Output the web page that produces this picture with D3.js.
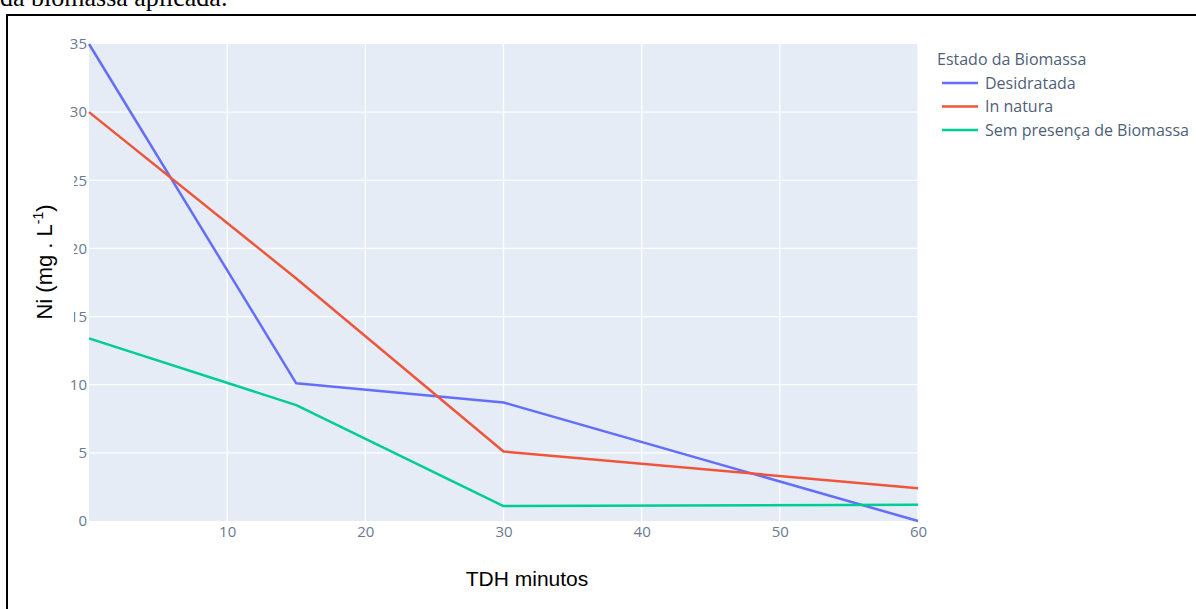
<!DOCTYPE html>
<html>
<head>
<meta charset="utf-8">
<script src="https://cdn.jsdelivr.net/npm/d3@7"></script>
<style>
  html, body { margin: 0; padding: 0; background: #fff; }
  svg { display: block; }
</style>
</head>
<body>
<svg id="chart" width="1196" height="609"></svg>
<script>
// Tempo de detenção hidráulica (min)
const tempos = [0, 15, 30, 60];
// Concentração de Ni (mg/L) por estado da biomassa
const desidratada = [35, 10.1, 8.7, 0];
const inNatura = [30, 17.8, 5.1, 2.4];
const semBiomassa = [13.4, 8.5, 1.1, 1.2];

const seriesNames = ["Desidratada", "In natura", "Sem presença de Biomassa"];
const seriesColors = ["#636efa", "#EF553B", "#00cc96"];
const xTicks = [10, 20, 30, 40, 50, 60];
const yTicks = [0, 5, 10, 15, 20, 25, 30, 35];

const series = [desidratada, inNatura, semBiomassa].map((vals, i) => ({
  name: seriesNames[i],
  color: seriesColors[i],
  points: tempos.map((t, j) => ({ t, v: vals[j] }))
}));

const svg = d3.select("#chart");
const plot = { left: 89, right: 918, top: 44, bottom: 521 };

const x = d3.scaleLinear().domain([0, 60]).range([plot.left, plot.right]);
const y = d3.scaleLinear().domain([0, 35]).range([plot.bottom, plot.top]);

// caption fragment above the figure frame
svg.append("text")
  .attr("x", 0).attr("y", 6)
  .attr("font-family", "Liberation Serif, Times New Roman, serif")
  .attr("font-size", 26)
  .attr("fill", "#000")
  .text("da biomassa aplicada.");

// figure frame
svg.append("line").attr("x1", 6).attr("x2", 1196).attr("y1", 15).attr("y2", 15)
  .attr("stroke", "#000").attr("stroke-width", 2);
svg.append("line").attr("x1", 7).attr("x2", 7).attr("y1", 14).attr("y2", 609)
  .attr("stroke", "#000").attr("stroke-width", 2);

// plot background
svg.append("rect")
  .attr("x", plot.left).attr("y", plot.top)
  .attr("width", plot.right - plot.left).attr("height", plot.bottom - plot.top)
  .attr("fill", "#E5ECF6");

// gridlines
svg.append("g").selectAll("line").data(xTicks).join("line")
  .attr("x1", d => x(d)).attr("x2", d => x(d))
  .attr("y1", plot.top).attr("y2", plot.bottom)
  .attr("stroke", "#fff").attr("stroke-width", 1.3);
svg.append("g").selectAll("line").data(yTicks.filter(d => d > 0 && d < 35)).join("line")
  .attr("x1", plot.left).attr("x2", plot.right)
  .attr("y1", d => y(d)).attr("y2", d => y(d))
  .attr("stroke", "#fff").attr("stroke-width", 1.3);

// axes (labels only, plotly style)
const tickFont = "Open Sans, Verdana, Arial, sans-serif";
const xAxis = svg.append("g")
  .attr("transform", `translate(0,${plot.bottom})`)
  .call(d3.axisBottom(x).tickValues(xTicks).tickSize(0).tickPadding(5).tickFormat(d3.format("d")));
xAxis.select(".domain").remove();
xAxis.selectAll("text").attr("font-family", tickFont).attr("font-size", 15).attr("fill", "#6b7a90");

const yAxis = svg.append("g")
  .attr("transform", `translate(${plot.left},0)`)
  .call(d3.axisLeft(y).tickValues(yTicks).tickSize(0).tickPadding(2).tickFormat(d3.format("d")));
yAxis.select(".domain").remove();
yAxis.selectAll("text").attr("font-family", tickFont).attr("font-size", 15).attr("fill", "#6b7a90");

// lines
const line = d3.line().x(d => x(d.t)).y(d => y(d.v));
svg.append("g").selectAll("path").data(series).join("path")
  .attr("d", d => line(d.points))
  .attr("fill", "none")
  .attr("stroke", d => d.color)
  .attr("stroke-width", 2.5)
  .attr("stroke-linejoin", "round");

// y-axis title with its white box
const yTitleG = svg.append("g").attr("transform", "translate(52,262) rotate(-90)");
yTitleG.append("rect").attr("x", -74).attr("y", -24).attr("width", 164).attr("height", 46).attr("fill", "#fff");
const yTitle = yTitleG.append("text")
  .attr("text-anchor", "middle")
  .attr("font-family", "Liberation Sans, Arial, sans-serif")
  .attr("font-size", 22)
  .attr("fill", "#000");
yTitle.append("tspan").text("Ni (mg . L");
yTitle.append("tspan").attr("font-size", 14).attr("dy", -9).text("-1");
yTitle.append("tspan").attr("dy", 9).text(")");

// x-axis title
svg.append("text")
  .attr("x", 527).attr("y", 586)
  .attr("text-anchor", "middle")
  .attr("font-family", "Liberation Sans, Arial, sans-serif")
  .attr("font-size", 21)
  .attr("fill", "#000")
  .text("TDH minutos");

// legend
const legend = svg.append("g").attr("transform", "translate(937,0)");
legend.append("text")
  .attr("x", 0).attr("y", 65)
  .attr("font-family", tickFont).attr("font-size", 16).attr("fill", "#4f5f78")
  .text("Estado da Biomassa");
const item = legend.selectAll("g.item").data(series).join("g")
  .attr("class", "item")
  .attr("transform", (d, i) => `translate(0,${83 + i * 23.5})`);
item.append("line").attr("x1", 5).attr("x2", 41).attr("y1", 0).attr("y2", 0)
  .attr("stroke", d => d.color).attr("stroke-width", 2.5);
item.append("text").attr("x", 48).attr("y", 5.5)
  .attr("font-family", tickFont).attr("font-size", 16).attr("fill", "#4f5f78")
  .text(d => d.name);
</script>
</body>
</html>
